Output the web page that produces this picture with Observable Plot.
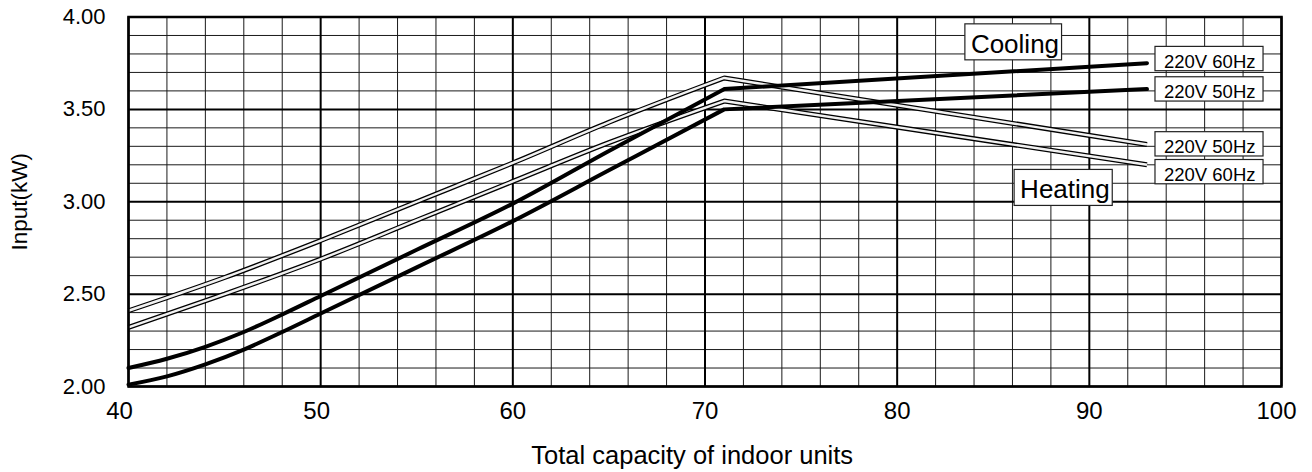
<!DOCTYPE html>
<html><head><meta charset="utf-8">
<script src="https://cdn.jsdelivr.net/npm/d3@7"></script>
<script src="https://cdn.jsdelivr.net/npm/@observablehq/plot@0.6"></script>
<style>body{margin:0;background:#fff}</style>
</head><body><div id="chart"></div>
<script>
// ---- data ----
const coolCapacity = [40, 42, 44, 46, 48, 50, 55, 60, 65, 71, 93];
const cooling60 = [2.10, 2.15, 2.215, 2.295, 2.39, 2.49, 2.74, 2.99, 3.275, 3.61, 3.75];
const cooling50 = [2.01, 2.055, 2.12, 2.20, 2.295, 2.395, 2.645, 2.895, 3.17, 3.50, 3.61];
const heatCapacity = [40, 45, 50, 55, 60, 65, 71, 93];
const heating50 = [2.41, 2.59, 2.79, 3.00, 3.21, 3.43, 3.67, 3.31];
const heating60 = [2.32, 2.50, 2.69, 2.90, 3.11, 3.32, 3.545, 3.20];
const seriesNames = ["220V 60Hz", "220V 50Hz", "220V 50Hz", "220V 60Hz"];
const seriesModes = ["Cooling", "Cooling", "Heating", "Heating"];
const modeLabels = ["Cooling", "Heating"];
const modeLabelX = [86.13, 88.73];
const modeLabelY = [3.852, 3.064];
const xTicks = [40, 50, 60, 70, 80, 90, 100];
const yTicks = [2.00, 2.50, 3.00, 3.50, 4.00];
const xTitle = "Total capacity of indoor units";
const yTitle = "Input(kW)";

// ---- build tables ----
const seriesXs = [coolCapacity, coolCapacity, heatCapacity, heatCapacity];
const seriesYs = [cooling60, cooling50, heating50, heating60];
const series = seriesYs.map((ys, i) => ({
  name: seriesNames[i], mode: seriesModes[i],
  rows: ys.map((y, j) => ({x: seriesXs[i][j], y}))
}));
const endLabelDy = [-1.5, 3, 2.5, 10];

// smooth rise up to the knee, straight segment after it
function kneeCurve(context) {
  let pts = [];
  return {
    areaStart() {}, areaEnd() {},
    lineStart() { pts = []; },
    point(x, y) { pts.push([+x, +y]); },
    lineEnd() {
      const c = d3.curveMonotoneX(context);
      c.lineStart();
      for (let i = 0; i < pts.length - 1; i++) c.point(pts[i][0], pts[i][1]);
      c.lineEnd();
      if (pts.length > 1) context.lineTo(pts[pts.length - 1][0], pts[pts.length - 1][1]);
    }
  };
}

const minorX = d3.range(40, 101, 2).filter(v => v % 10 !== 0);
const majorX = xTicks;
const minorY = d3.range(20, 41, 1).map(v => v / 10).filter(v => Math.abs(v * 2 - Math.round(v * 2)) > 1e-6);
const majorY = yTicks;

const marks = [
  Plot.ruleX(minorX, {stroke: "#1a1a1a", strokeWidth: 1}),
  Plot.ruleY(minorY, {stroke: "#1a1a1a", strokeWidth: 1}),
  Plot.ruleX(majorX, {stroke: "#000", strokeWidth: 2}),
  Plot.ruleY(majorY, {stroke: "#000", strokeWidth: 2}),
];
// heating: double (outlined) lines
series.filter(s => s.mode === "Heating").forEach(s => {
  marks.push(Plot.line(s.rows, {x: "x", y: "y", curve: kneeCurve, stroke: "#000", strokeWidth: 5, strokeLinecap: "butt", strokeLinejoin: "miter"}));
  marks.push(Plot.line(s.rows, {x: "x", y: "y", curve: kneeCurve, stroke: "#f2f2f2", strokeWidth: 2.4, strokeLinecap: "butt", strokeLinejoin: "miter"}));
});
// cooling: thick black lines
series.filter(s => s.mode === "Cooling").forEach(s => {
  marks.push(Plot.line(s.rows, {x: "x", y: "y", curve: kneeCurve, stroke: "#000", strokeWidth: 4}));
});
marks.push(Plot.frame({stroke: "#000", strokeWidth: 2.5}));
// end labels
series.forEach((s, i) => {
  const last = s.rows[s.rows.length - 1];
  marks.push(Plot.text([{...last, label: s.name}], {
    x: "x", y: "y", text: "label", textAnchor: "start", lineAnchor: "middle",
    dx: 17, dy: endLabelDy[i], fontSize: 18.5, fill: "#000", className: "box-end"
  }));
});
// mode labels
marks.push(Plot.text(modeLabels.map((t, i) => ({t, x: modeLabelX[i], y: modeLabelY[i]})), {
  x: "x", y: "y", text: "t", textAnchor: "middle", lineAnchor: "middle",
  fontSize: 26, fill: "#000", className: "box-mode"
}));
// axes
const xTickShift = [-9, -4, 0, 0, 0, 0, -5];
xTicks.forEach((t, i) => {
  marks.push(Plot.axisX([t], {tickSize: 0, tickPadding: 15, fontSize: 24, label: null, dx: xTickShift[i]}));
});
marks.push(Plot.axisY(yTicks, {tickSize: 0, tickPadding: 23, fontSize: 22, label: null, tickFormat: d3.format(".2f")}));
marks.push(Plot.text([xTitle], {text: d => d, frameAnchor: "bottom", lineAnchor: "top", textAnchor: "middle", dy: 59, dx: -12.8, fontSize: 25.5, fill: "#000"}));
marks.push(Plot.text([yTitle], {text: d => d, frameAnchor: "left", lineAnchor: "top", textAnchor: "middle", rotate: -90, dx: -117, fontSize: 22.5, fill: "#000"}));

const plot = Plot.plot({
  width: 1312, height: 472,
  marginLeft: 128, marginRight: 31, marginTop: 16.5, marginBottom: 86,
  x: {domain: [40, 100]},
  y: {domain: [2, 4]},
  style: {fontFamily: "'Liberation Sans', Arial, Helvetica, sans-serif", color: "#000", background: "#fff"},
  marks
});
document.getElementById("chart").append(plot);

// draw white boxes behind the label texts (vertical extent relative to the text anchor)
function boxify(selector, pad) {
  plot.querySelectorAll(selector).forEach(t => {
    const b = t.getBBox();
    const r = document.createElementNS("http://www.w3.org/2000/svg", "rect");
    r.setAttribute("x", b.x - pad.l);
    r.setAttribute("y", pad.top);
    r.setAttribute("width", b.width + pad.l + pad.r);
    r.setAttribute("height", pad.h);
    r.setAttribute("fill", "#fff");
    r.setAttribute("stroke", "#222");
    r.setAttribute("stroke-width", 1.2);
    if (t.getAttribute("transform")) r.setAttribute("transform", t.getAttribute("transform"));
    t.parentNode.insertBefore(r, t);
  });
}
boxify("g.box-end text", {l: 9, r: 7.5, top: -15.3, h: 24.3});
boxify("g.box-mode text", {l: 6, r: 2.5, top: -20.5, h: 36});
</script>
</body></html>
